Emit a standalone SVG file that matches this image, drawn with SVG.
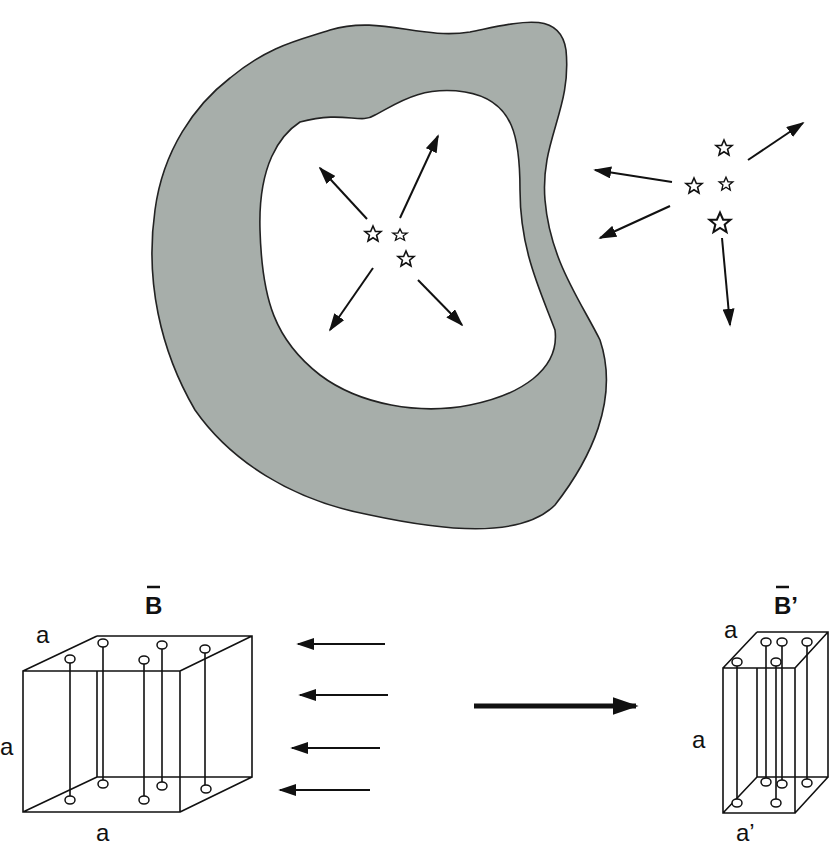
<svg xmlns="http://www.w3.org/2000/svg" width="830" height="847" viewBox="0 0 830 847">
<style>
.l{stroke:#111;stroke-width:2;fill:none}
.t{stroke:#111;stroke-width:1.6;fill:none}
.s{fill:#fff;stroke:#111;stroke-width:1.6}
.c{fill:#fff;stroke:#111;stroke-width:1.5}
text{font-family:"Liberation Sans",Arial,sans-serif;font-size:24px;fill:#111}
.b{font-weight:bold}
</style>
<defs>
<marker id="ah" viewBox="0 0 10 10" refX="9" refY="5" markerWidth="18" markerHeight="12" markerUnits="userSpaceOnUse" orient="auto" preserveAspectRatio="none"><path d="M0,0L10,5L0,10z" fill="#111"/></marker>
<marker id="ah2" viewBox="0 0 10 10" refX="9" refY="5" markerWidth="26" markerHeight="18" markerUnits="userSpaceOnUse" orient="auto" preserveAspectRatio="none"><path d="M0,0L10,5L0,10z" fill="#111"/></marker>
<path id="st" d="M0,-8 L2.4,-2.5 8,-2.5 3.6,1.2 5,7 0,3.8 -5,7 -3.6,1.2 -8,-2.5 -2.4,-2.5z"/>
</defs>
<g id="region">
<path fill="#a7aeaa" stroke="#222" stroke-width="1.6" fill-rule="evenodd" d="M230,78 C270,45 300,40 330,30 C380,15 420,40 470,32 C520,22 560,10 566,50 C572,110 540,140 545,200 C550,260 580,300 600,340 C620,400 590,460 555,505 C520,540 440,530 370,515 C290,500 230,460 195,410 C160,350 145,280 155,210 C163,150 195,105 230,78 Z M300,122 C280,135 258,165 260,230 C262,300 275,340 320,375 C360,405 420,415 470,405 C520,395 560,370 555,330 C540,290 520,250 520,190 C520,140 515,100 465,92 C420,85 395,105 375,115 C360,125 345,110 300,122 Z"/>
</g>
<g id="stars">
<use href="#st" class="s" x="373" y="234"/>
<use href="#st" class="s" x="400" y="235" transform="translate(400 235) scale(0.9 0.75) translate(-400 -235)"/>
<use href="#st" class="s" x="406" y="259"/>
<use href="#st" class="s" x="724" y="148"/>
<use href="#st" class="s" x="694" y="186"/>
<use href="#st" class="s" x="726" y="184" transform="translate(726 184) scale(0.85) translate(-726 -184)"/>
<use href="#st" class="s" x="720" y="223" transform="translate(720 223) scale(1.3) translate(-720 -223)"/>
</g>
<g id="connectors">
<line class="l" x1="367" y1="219" x2="320" y2="168" marker-end="url(#ah)"/>
<line class="l" x1="400" y1="218" x2="438" y2="136" marker-end="url(#ah)"/>
<line class="l" x1="373" y1="268" x2="330" y2="330" marker-end="url(#ah)"/>
<line class="l" x1="418" y1="280" x2="462" y2="325" marker-end="url(#ah)"/>
<line class="l" x1="748" y1="160" x2="803" y2="123" marker-end="url(#ah)"/>
<line class="l" x1="672" y1="182" x2="595" y2="170" marker-end="url(#ah)"/>
<line class="l" x1="670" y1="206" x2="600" y2="238" marker-end="url(#ah)"/>
<line class="l" x1="722" y1="238" x2="730" y2="325" marker-end="url(#ah)"/>
<line class="l" x1="385" y1="644" x2="298" y2="644" marker-end="url(#ah)"/>
<line class="l" x1="388" y1="695" x2="300" y2="695" marker-end="url(#ah)"/>
<line class="l" x1="380" y1="748" x2="292" y2="748" marker-end="url(#ah)"/>
<line class="l" x1="370" y1="790" x2="280" y2="790" marker-end="url(#ah)"/>
<line stroke="#111" stroke-width="5" x1="474" y1="706" x2="636" y2="706" marker-end="url(#ah2)"/>
</g>
<g id="cube1">
<path class="t" d="M23,671H180V812H23Z M97,636H252V777H97V671 M23,671L97,636 M180,671L252,636 M180,812L252,777 M23,812L97,777"/>
<path class="t" stroke-width="1.3" d="M70,659V800 M103,643V784 M144,660V800 M162,645V786 M205,649V789"/>
<g class="c"><ellipse cx="70" cy="659" rx="5" ry="4"/><ellipse cx="103" cy="643" rx="5" ry="4"/><ellipse cx="144" cy="660" rx="5" ry="4"/><ellipse cx="162" cy="645" rx="5" ry="4"/><ellipse cx="205" cy="649" rx="5" ry="4"/>
<ellipse cx="70" cy="800" rx="5" ry="4"/><ellipse cx="103" cy="784" rx="5" ry="4"/><ellipse cx="144" cy="800" rx="5" ry="4"/><ellipse cx="162" cy="786" rx="5" ry="4"/><ellipse cx="206" cy="789" rx="5" ry="4"/></g>
<text class="b" x="145" y="614">B</text><line x1="147" y1="587" x2="160" y2="587" stroke="#111" stroke-width="2.5"/>
<text x="36" y="643">a</text><text x="0" y="755">a</text><text x="96" y="841">a</text>
</g>
<g id="cube2">
<path class="t" d="M723,668H795V813H723Z M757,632H828V777H757V668 M723,668L757,632 M795,668L828,632 M795,813L828,777 M723,813L757,777"/>
<path class="t" stroke-width="1.3" d="M737,662V803 M766,642V782 M782,642V784 M807,642V783 M776,662V803"/>
<g class="c"><ellipse cx="737" cy="662" rx="5" ry="4"/><ellipse cx="766" cy="642" rx="5" ry="4"/><ellipse cx="782" cy="642" rx="5" ry="4"/><ellipse cx="807" cy="642" rx="5" ry="4"/><ellipse cx="776" cy="662" rx="5" ry="4"/>
<ellipse cx="737" cy="803" rx="5" ry="4"/><ellipse cx="766" cy="782" rx="5" ry="4"/><ellipse cx="782" cy="784" rx="5" ry="4"/><ellipse cx="807" cy="783" rx="5" ry="4"/><ellipse cx="776" cy="803" rx="5" ry="4"/></g>
<text class="b" x="774" y="614">B’</text><line x1="776" y1="587" x2="789" y2="587" stroke="#111" stroke-width="2.5"/>
<text x="724" y="638">a</text><text x="692" y="748">a</text><text x="736" y="841">a’</text>
</g>
</svg>
